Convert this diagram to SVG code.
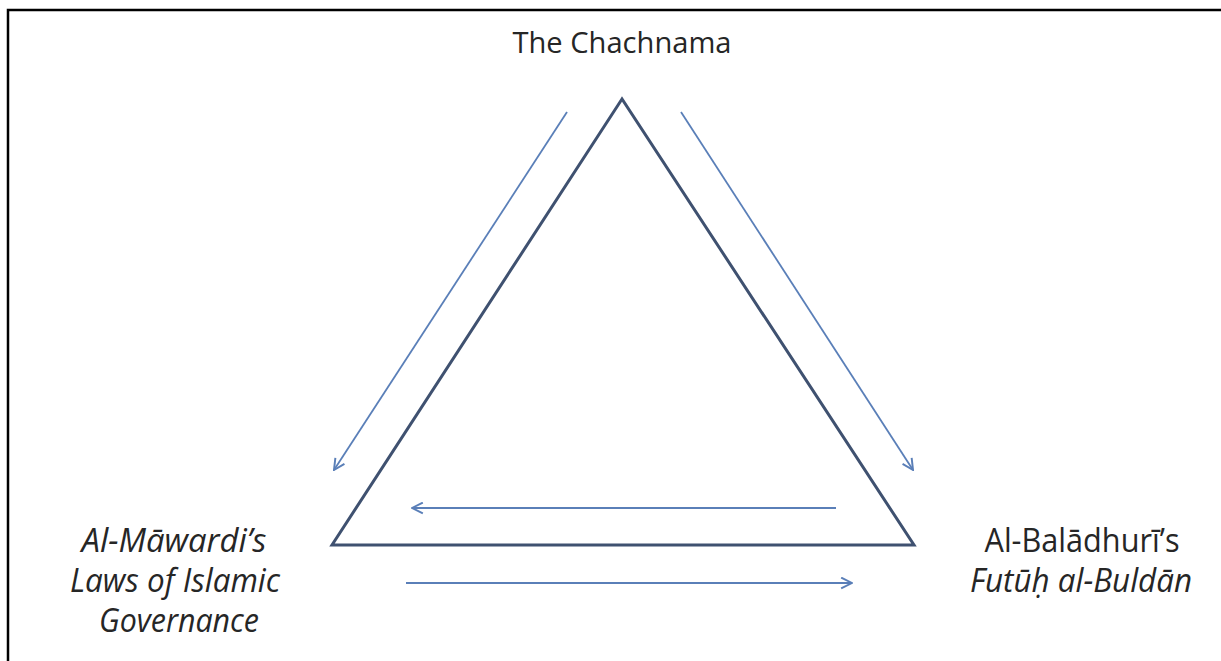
<svg xmlns="http://www.w3.org/2000/svg" width="1221" height="661" viewBox="0 0 1221 661">
<style>
.lbl{font-family:"Open Sans","Liberation Sans",sans-serif;font-size:32px;fill:#262626;text-anchor:middle}
.ttl{font-size:30px}
.it{font-style:italic}
.arr{fill:none;stroke:#5a7fb8;stroke-width:1.8}
.tri{fill:none;stroke:#3f5170;stroke-width:3;stroke-linejoin:miter}
</style>
<defs>
<marker id="ah" viewBox="0 0 12 12" refX="11" refY="6" markerWidth="13" markerHeight="13" markerUnits="userSpaceOnUse" orient="auto">
<path d="M1,1 L11,6 L1,11" fill="none" stroke="#5a7fb8" stroke-width="1.8"/>
</marker>
</defs>
<rect width="1221" height="661" fill="#ffffff"/>
<path d="M8,661 V10 H1221" fill="none" stroke="#000" stroke-width="2.5"/>
<g id="triangle"><polygon class="tri" points="622,99 332,545 914,545"/></g>
<g id="connectors">
<line class="arr" x1="567" y1="112" x2="334" y2="470" marker-end="url(#ah)"/>
<line class="arr" x1="681" y1="112" x2="913" y2="470" marker-end="url(#ah)"/>
<line class="arr" x1="836" y1="508" x2="412" y2="508" marker-end="url(#ah)"/>
<line class="arr" x1="406" y1="583" x2="852" y2="583" marker-end="url(#ah)"/>
</g>
<g id="chachnama"><text class="lbl ttl" x="622" y="53" textLength="219" lengthAdjust="spacingAndGlyphs">The Chachnama</text></g>
<g id="mawardi">
<text class="lbl it" x="174" y="552" textLength="185" lengthAdjust="spacingAndGlyphs">Al-Māwardi’s</text>
<text class="lbl it" x="175" y="592" textLength="210" lengthAdjust="spacingAndGlyphs">Laws of Islamic</text>
<text class="lbl it" x="179" y="632" textLength="160" lengthAdjust="spacingAndGlyphs">Governance</text>
</g>
<g id="baladhuri">
<text class="lbl" x="1082" y="552" textLength="195" lengthAdjust="spacingAndGlyphs">Al-Balādhurī’s</text>
<text class="lbl it" x="1081" y="592" textLength="222" lengthAdjust="spacingAndGlyphs">Futūḥ al-Buldān</text>
</g>
</svg>
